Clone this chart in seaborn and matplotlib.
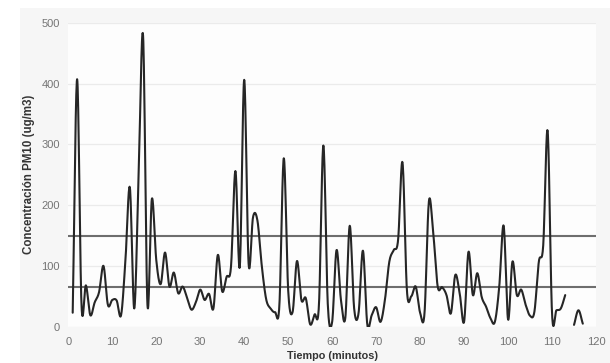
import numpy as np
import pandas as pd
import matplotlib
matplotlib.use("Agg")
import matplotlib.pyplot as plt
import seaborn as sns
from matplotlib.patches import Rectangle

# ---- data ----
minutes_a = list(range(1, 114))
pm10_a = [23, 407, 36, 68, 19, 40, 57, 100, 36, 44,
          43, 19, 110, 229, 30, 250, 479, 36, 210, 110,
          70, 122, 66, 89, 55, 66, 48, 28, 40, 61,
          44, 54, 30, 118, 58, 82, 99, 256, 99, 406,
          104, 180, 175, 100, 45, 30, 24, 35, 277, 60,
          24, 108, 44, 47, 4, 20, 36, 298, 38, 8,
          126, 44, 15, 166, 30, 22, 125, 3, 19, 32,
          8, 44, 107, 126, 143, 270, 60, 50, 66, 23,
          22, 206, 153, 66, 65, 52, 22, 85, 55, 8,
          123, 52, 88, 49, 33, 14, 8, 66, 166, 12,
          107, 52, 61, 36, 18, 25, 107, 134, 322, 22,
          27, 30, 52]
minutes_b = [115, 116, 117]
pm10_b = [3, 27, 5]
limit_levels = [150, 65]
x_ticks = [0, 10, 20, 30, 40, 50, 60, 70, 80, 90, 100, 110, 120]
y_ticks = [0, 100, 200, 300, 400, 500]


def smooth(x, y, n=16):
    """Catmull-Rom (cardinal) smoothing like a spreadsheet 'smoothed line'."""
    x = np.asarray(x, float)
    y = np.asarray(y, float)
    m = np.gradient(y, x)
    xs, ys = [], []
    s = np.linspace(0, 1, n, endpoint=False)
    h00 = 2 * s**3 - 3 * s**2 + 1
    h10 = s**3 - 2 * s**2 + s
    h01 = -2 * s**3 + 3 * s**2
    h11 = s**3 - s**2
    for i in range(len(x) - 1):
        h = x[i + 1] - x[i]
        xs.append(x[i] + s * h)
        ys.append(h00 * y[i] + h10 * h * m[i] + h01 * y[i + 1] + h11 * h * m[i + 1])
    xs.append([x[-1]])
    ys.append([y[-1]])
    return np.concatenate(xs), np.concatenate(ys)


xa, ya = smooth(minutes_a, pm10_a)
xb, yb = smooth(minutes_b, pm10_b)
df = pd.concat([
    pd.DataFrame({"t": xa, "v": ya, "seg": 0}),
    pd.DataFrame({"t": xb, "v": yb, "seg": 1}),
], ignore_index=True)

sns.set_theme(style="white")
plt.rcParams["font.family"] = ["Liberation Sans", "DejaVu Sans"]

fig = plt.figure(figsize=(6.10, 3.63), dpi=100, facecolor="white")
fig.patches.append(Rectangle((20 / 610, 0), 590 / 610, 1 - 8 / 363,
                             transform=fig.transFigure, facecolor="#f6f6f6",
                             edgecolor="none", zorder=-10))
ax = fig.add_axes([68.3 / 610, 1 - 326.7 / 363, (596 - 68.3) / 610, (326.7 - 22.7) / 363])
ax.set_facecolor("#fdfdfd")

for yv in y_ticks:
    ax.axhline(yv, color="#ebebeb", lw=0.9, zorder=0)

for lv in limit_levels:
    ax.axhline(lv, color="#6e6e6e", lw=1.5, zorder=2)

sns.lineplot(data=df, x="t", y="v", units="seg", estimator=None,
             color="#262626", lw=1.5, ax=ax, zorder=3, sort=False)

ax.set_xlim(0, 120)
ax.set_ylim(0, 500)
ax.set_xticks(x_ticks)
ax.set_yticks(y_ticks)
ax.tick_params(axis="both", labelsize=8, colors="#747474", length=0)
ax.tick_params(axis="x", pad=7.5)
ax.tick_params(axis="y", pad=6)
for sp in ax.spines.values():
    sp.set_visible(False)

ax.set_ylabel("Concentración PM10 (ug/m3)", fontsize=8.3, fontweight="bold",
              color="#333333", labelpad=5)
ax.set_xlabel("Tiempo (minutos)", fontsize=7.8, fontweight="bold",
              color="#333333", labelpad=3)

fig.savefig("out.png", dpi=100, facecolor=fig.get_facecolor())
